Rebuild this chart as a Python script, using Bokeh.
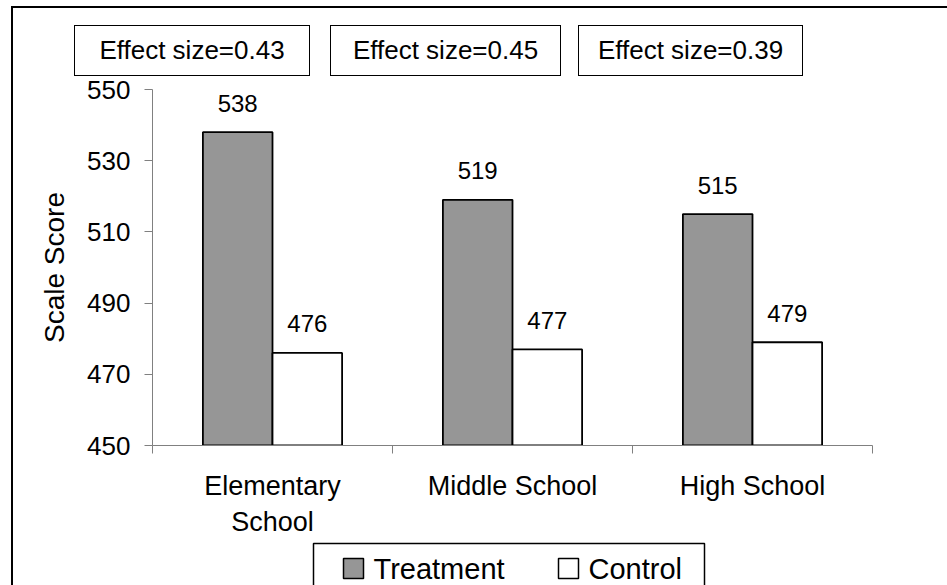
from bokeh.plotting import figure
from bokeh.layouts import column
from bokeh.models import ColumnDataSource, Range1d, FixedTicker, Div
from bokeh.core.properties import value
from bokeh.embed import file_html
from bokeh.resources import INLINE

# ---- data ----
categories = ["Elementary School", "Middle School", "High School"]
category_labels = ["Elementary\nSchool", "Middle School", "High School"]
series = ["Treatment", "Control"]
series_colors = ["#969696", "white"]
treatment = [538, 519, 515]
control = [476, 477, 479]
effect_sizes = ["0.43", "0.45", "0.39"]
y_ticks = [450, 470, 490, 510, 530, 550]

# ---- layout constants (pixels) ----
FONT = "Liberation Sans"
BAR_W = 0.29
Y0, Y1 = 450, 550
W = 930
HEAD_H, MAIN_H, FOOT_H = 63, 478, 58
FRAME_L, FRAME_R = 139, 859
box_left = [56, 312, 560]
box_width = [236, 231, 225]

# ---- header: effect size boxes ----
boxes_html = "".join(
    f'<div style="position:absolute;left:{l}px;top:12px;width:{w}px;height:51px;'
    f'box-sizing:border-box;border:1.5px solid black;background:white;'
    f'display:flex;align-items:center;justify-content:center;white-space:nowrap;'
    f"font-family:'{FONT}';font-size:26px;color:black;\">Effect size={es}</div>"
    for l, w, es in zip(box_left, box_width, effect_sizes))
head = Div(text=f'<div style="position:relative;width:{W}px;height:{HEAD_H}px;">'
                f'{boxes_html}</div>', width=W, height=HEAD_H)

# ---- main chart ----
p = figure(width=W, height=MAIN_H, output_backend="svg", toolbar_location=None,
           x_range=Range1d(0, len(categories)), y_range=Range1d(Y0, Y1),
           min_border_left=FRAME_L, min_border_right=W - FRAME_R, min_border_top=17,
           min_border_bottom=105)
p.styles = {"margin-top": "-9px"}
p.outline_line_color = None
p.xgrid.visible = False
p.ygrid.visible = False
p.background_fill_color = "white"
p.border_fill_color = None

centers = [i + 0.5 for i in range(len(categories))]
x_t = [c - BAR_W / 2 for c in centers]
x_c = [c + BAR_W / 2 for c in centers]

src_t = ColumnDataSource(dict(x=x_t, top=treatment, label=[str(v) for v in treatment]))
src_c = ColumnDataSource(dict(x=x_c, top=control, label=[str(v) for v in control]))

p.vbar(x="x", top="top", bottom=Y0, width=BAR_W, source=src_t,
       fill_color=series_colors[0], line_color="black", line_width=1.8)
p.vbar(x="x", top="top", bottom=Y0, width=BAR_W, source=src_c,
       fill_color=series_colors[1], line_color="black", line_width=1.8)

for src in (src_t, src_c):
    p.text(x="x", y="top", text="label", source=src, text_align="center",
           text_baseline="alphabetic", y_offset=-29, text_font=value(FONT),
           text_font_size="24px", text_color="black")

p.yaxis.ticker = FixedTicker(ticks=y_ticks)
p.yaxis.axis_label = "Scale Score"
p.yaxis.axis_label_text_font = FONT
p.yaxis.axis_label_text_font_size = "28px"
p.yaxis.axis_label_text_font_style = "normal"
p.yaxis.axis_label_text_color = "black"
p.yaxis.axis_label_standoff = 14
p.yaxis.axis_line_color = "#808080"
p.yaxis.major_tick_line_color = "#808080"
p.yaxis.major_tick_out = 8
p.yaxis.major_tick_in = 0
p.yaxis.minor_tick_out = 0
p.yaxis.minor_tick_in = 0
p.yaxis.major_label_text_font = FONT
p.yaxis.major_label_text_font_size = "26px"
p.yaxis.major_label_text_color = "black"
p.yaxis.major_label_standoff = 14

p.xaxis.ticker = FixedTicker(ticks=centers, minor_ticks=list(range(len(categories) + 1)))
p.xaxis.major_label_overrides = {c: lab for c, lab in zip(centers, category_labels)}
p.xaxis.axis_line_color = "#808080"
p.xaxis.major_tick_out = 0
p.xaxis.major_tick_in = 0
p.xaxis.minor_tick_out = 8
p.xaxis.minor_tick_in = 0
p.xaxis.minor_tick_line_color = "#808080"
p.xaxis.major_label_text_font = FONT
p.xaxis.major_label_text_font_size = "27px"
p.xaxis.major_label_text_color = "black"
p.xaxis.major_label_standoff = 17

# ---- footer: legend (pixel coordinates inside an axis-less figure) ----
foot = figure(width=W, height=FOOT_H, output_backend="svg", toolbar_location=None,
              x_range=Range1d(FRAME_L, FRAME_R), y_range=Range1d(FOOT_H, 0),
              x_axis_type=None, y_axis_type=None, min_border_left=FRAME_L,
              min_border_right=W - FRAME_R, min_border_top=0, min_border_bottom=0)
foot.styles = {"margin-top": "-13px"}
foot.outline_line_color = None
foot.grid.visible = False
foot.background_fill_color = None
foot.border_fill_color = None

foot.quad(left=[300], right=[691], top=[6], bottom=[55],
          fill_color=None, line_color="black", line_width=1.5)
swatch_left = [330, 545]
label_left = [360, 575]
foot.quad(left=swatch_left, right=[x + 20 for x in swatch_left], top=[21, 21],
          bottom=[41, 41], fill_color=series_colors, line_color="black", line_width=1.5)
foot.text(x=label_left, y=[31, 31], text=series, text_align="left",
          text_baseline="middle", text_font=value(FONT), text_font_size="29px",
          text_color="black")

layout = column(head, p, foot, spacing=0)
layout.styles = {"margin-left": "11px", "margin-top": "6px",
                 "border-left": "2px solid black", "border-top": "2px solid black"}

open("out.html", "w").write(file_html(layout, INLINE))
